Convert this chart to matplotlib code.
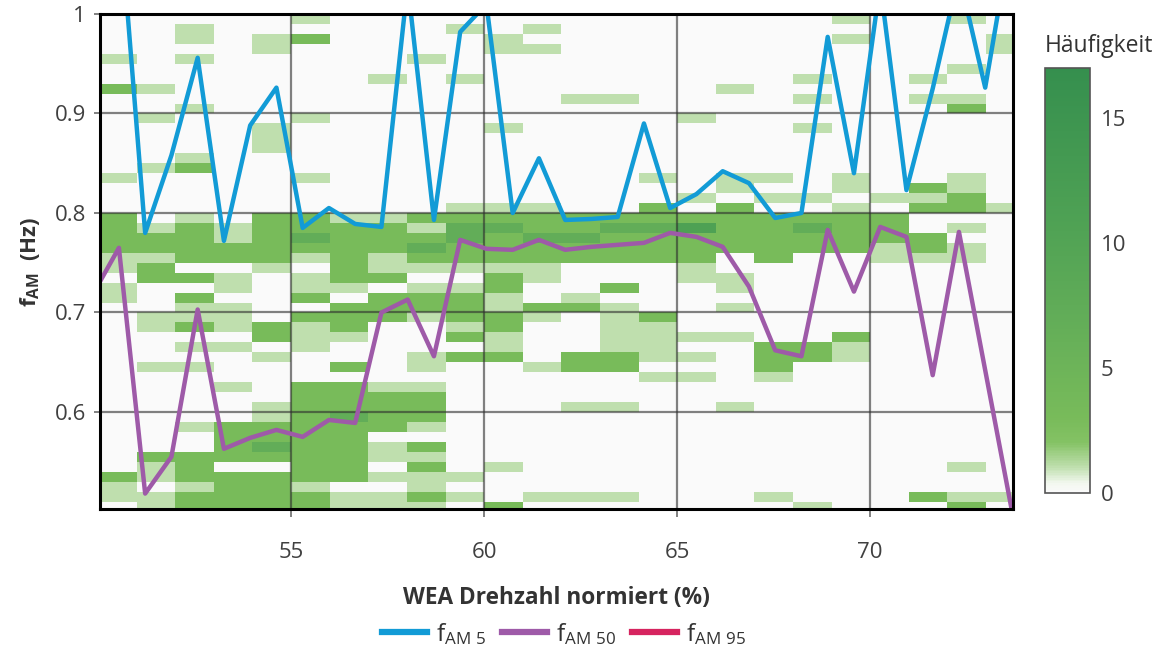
import numpy as np
import matplotlib
matplotlib.use("Agg")
import matplotlib.pyplot as plt
from matplotlib.colors import LinearSegmentedColormap, Normalize
from matplotlib.lines import Line2D
import matplotlib.colorbar as mcolorbar

plt.rcParams['font.family'] = ['Open Sans', 'DejaVu Sans']
plt.rcParams['mathtext.fontset'] = 'custom'
plt.rcParams['mathtext.rm'] = 'Open Sans'
plt.rcParams['mathtext.it'] = 'Open Sans'
plt.rcParams['mathtext.bf'] = 'Open Sans:bold'

# ---------------- data ----------------
# heatmap bins
speed_edges = np.arange(50, 75)                          # % rotor speed, 1 % bins
freq_edges = np.round(np.arange(0.50, 1.0001, 0.01), 2)  # Hz, 0.01 Hz bins

# count codes per frequency row, top row (0.99-1.00 Hz) first, columns 50..73 %
level_counts = {'0': 0, '1': 1, '3': 3, '6': 7, '9': 11}
heat_rows = [
    "000001000000000000010010",  # 0.99
    "001000000101000000000000",  # 0.98
    "001013000010000000010001",  # 0.97
    "000010000011000000000001",  # 0.96
    "101000001000000000000000",  # 0.95
    "000000000000000000000010",  # 0.94
    "000000010100000000100100",  # 0.93
    "310000000000000010000000",  # 0.92
    "000000000000110000100110",  # 0.91
    "001000000000000000000030",  # 0.90
    "010001000000000100000000",  # 0.89
    "000010000010000000100000",  # 0.88
    "000010000000000000000000",  # 0.87
    "000010000000000000000000",  # 0.86
    "001000000000000000000000",  # 0.85
    "013000000000000000000000",  # 0.84
    "100001000000001011010010",  # 0.83
    "000000000000000010010310",  # 0.82
    "000000000000000101101130",  # 0.81
    "000000000111003030010331",  # 0.80
    "301033113333333333333000",  # 0.79
    "313133331663366933633010",  # 0.78
    "333136333636633333333300",  # 0.77
    "333333336333333333331310",  # 0.76
    "113331313333333303001110",  # 0.75
    "130010311111000100000000",  # 0.74
    "033101330031000110000000",  # 0.73
    "100101101130030010000000",  # 0.72
    "103003033310100000000000",  # 0.71
    "001100333313310010000000",  # 0.70
    "011103331331013000000000",  # 0.69
    "013131300130011000000000",  # 0.68
    "000031100310011110030000",  # 0.67
    "001101000010011003310000",  # 0.66
    "000010001330331103310000",  # 0.65
    "011000301001330003000000",  # 0.64
    "000000000000001101000000",  # 0.63
    "000103311000000000000000",  # 0.62
    "000003333000000000000000",  # 0.61
    "000013333000110010000000",  # 0.60
    "000013633000000000000000",  # 0.59
    "001333331000000000000000",  # 0.58
    "000333300000000000000000",  # 0.57
    "000363313000000000000000",  # 0.56
    "033333311000000000000000",  # 0.55
    "013003303010000000000010",  # 0.54
    "313333311100000000000000",  # 0.53
    "101331001000000000000000",  # 0.52
    "113333113101110001000311",  # 0.51
    "013333111030000000100030",  # 0.50
]

# percentile lines
speed = [49.86, 50.54, 51.22, 51.90, 52.58, 53.26, 53.94, 54.62, 55.30, 55.98,
         56.66, 57.34, 58.02, 58.70, 59.38, 60.06, 60.74, 61.42, 62.10, 62.78,
         63.46, 64.14, 64.82, 65.50, 66.18, 66.86, 67.54, 68.22, 68.90, 69.58,
         70.26, 70.94, 71.62, 72.30, 72.98, 73.66]
f_am5 = [1.15, 1.11, 0.780, 0.858, 0.956, 0.772, 0.888, 0.926, 0.785, 0.805,
         0.789, 0.786, 1.03, 0.793, 0.982, 1.01, 0.800, 0.855, 0.793, 0.794,
         0.796, 0.890, 0.805, 0.819, 0.842, 0.830, 0.795, 0.800, 0.977, 0.840,
         1.03, 0.823, 0.925, 1.04, 0.926, 1.08]
f_am50 = [0.718, 0.765, 0.518, 0.555, 0.703, 0.563, 0.574, 0.582, 0.575, 0.592,
          0.589, 0.700, 0.713, 0.656, 0.773, 0.764, 0.763, 0.773, 0.763, 0.766,
          0.768, 0.770, 0.780, 0.776, 0.766, 0.726, 0.662, 0.656, 0.783, 0.721,
          0.786, 0.776, 0.637, 0.781, 0.642, 0.503]

x_ticks = [55, 60, 65, 70]
y_ticks = [0.6, 0.7, 0.8, 0.9, 1.0]
y_tick_labels = ['0.6', '0.7', '0.8', '0.9', '1']
cbar_ticks = [0, 5, 10, 15]
legend_labels = [r'f$_{\mathregular{AM\ 5}}$', r'f$_{\mathregular{AM\ 50}}$', r'f$_{\mathregular{AM\ 95}}$']

# ---------------- figure ----------------
W, H = 1164, 655
fig = plt.figure(figsize=(W / 100, H / 100), dpi=100)
fig.patch.set_facecolor('white')

ax = fig.add_axes([100 / W, 1 - 509 / H, 913 / W, 495 / H])

counts = np.array([[level_counts[ch] for ch in row] for row in heat_rows], dtype=float)[::-1]

vmax = 17
cmap = LinearSegmentedColormap.from_list(
    'hk',
    [(0.0, '#fafafa'), (0.35 / vmax, '#f3f8f0'), (1.0 / vmax, '#bfdfae'),
     (2.0 / vmax, '#84c264'), (3.0 / vmax, '#78bb5a'), (7.0 / vmax, '#62ad58'),
     (11.0 / vmax, '#4ea154'), (1.0, '#358f4e')])
norm = Normalize(0, vmax)

ax.pcolormesh(speed_edges, freq_edges, counts, cmap=cmap, norm=norm,
              shading='flat', zorder=1, antialiased=False)

blue = '#129bd6'
purple = '#9e5aa8'
red = '#d6245f'
ax.plot(speed, f_am5, color=blue, lw=3.2, zorder=4, solid_joinstyle='round')
ax.plot(speed, f_am50, color=purple, lw=3.2, zorder=4, solid_joinstyle='round')
ax.plot([], [], color=red, lw=3.2)  # 95th percentile lies above the shown range

ax.set_xlim(50.05, 73.7)
ax.set_ylim(0.5025, 1.0)

ax.set_xticks(x_ticks)
ax.set_yticks(y_ticks)
ax.set_yticklabels(y_tick_labels)
ax.grid(True, color='#2e2e2e', alpha=0.6, lw=1.6, zorder=2)
ax.set_axisbelow('line')

for s in ax.spines.values():
    s.set_color('black')
    s.set_linewidth(2.2)
    s.set_zorder(5)

ax.tick_params(axis='both', colors='#777777', labelcolor='#404040', labelsize=16,
               width=1.3, direction='out')
ax.tick_params(axis='x', length=6, pad=18)
ax.tick_params(axis='y', length=4, pad=6)

fig.text(556 / W, 1 - 598 / H, 'WEA Drehzahl normiert (%)', ha='center', va='center',
         fontsize=16.3, fontweight='bold', color='#333333')
fig.text(30 / W, 1 - 262 / H, r'$\mathbf{f_{AM}}$  (Hz)', ha='center', va='center',
         rotation=90, fontsize=16, fontweight='bold', color='#333333')

# colourbar
cax = fig.add_axes([1045 / W, 1 - 493 / H, 45 / W, 425 / H])
cb = mcolorbar.ColorbarBase(cax, cmap=cmap, norm=norm, orientation='vertical')
cb.set_ticks(cbar_ticks)
cb.outline.set_edgecolor('#555555')
cb.outline.set_linewidth(1.2)
cax.tick_params(length=0, labelsize=16, labelcolor='#404040', pad=8)
fig.text(1045 / W, 1 - 46 / H, 'Häufigkeit', ha='left', va='center',
         fontsize=16.5, color='#333333')

handles = [Line2D([], [], color=c, lw=4.5) for c in (blue, purple, red)]
fig.legend(handles, legend_labels, loc='center', bbox_to_anchor=(564 / W, 1 - 634 / H),
           ncol=3, frameon=False, fontsize=17.5, handlelength=1.85, handletextpad=0.37,
           columnspacing=0.66, labelcolor='#333333')

fig.savefig('out.png', dpi=100, facecolor='white')
